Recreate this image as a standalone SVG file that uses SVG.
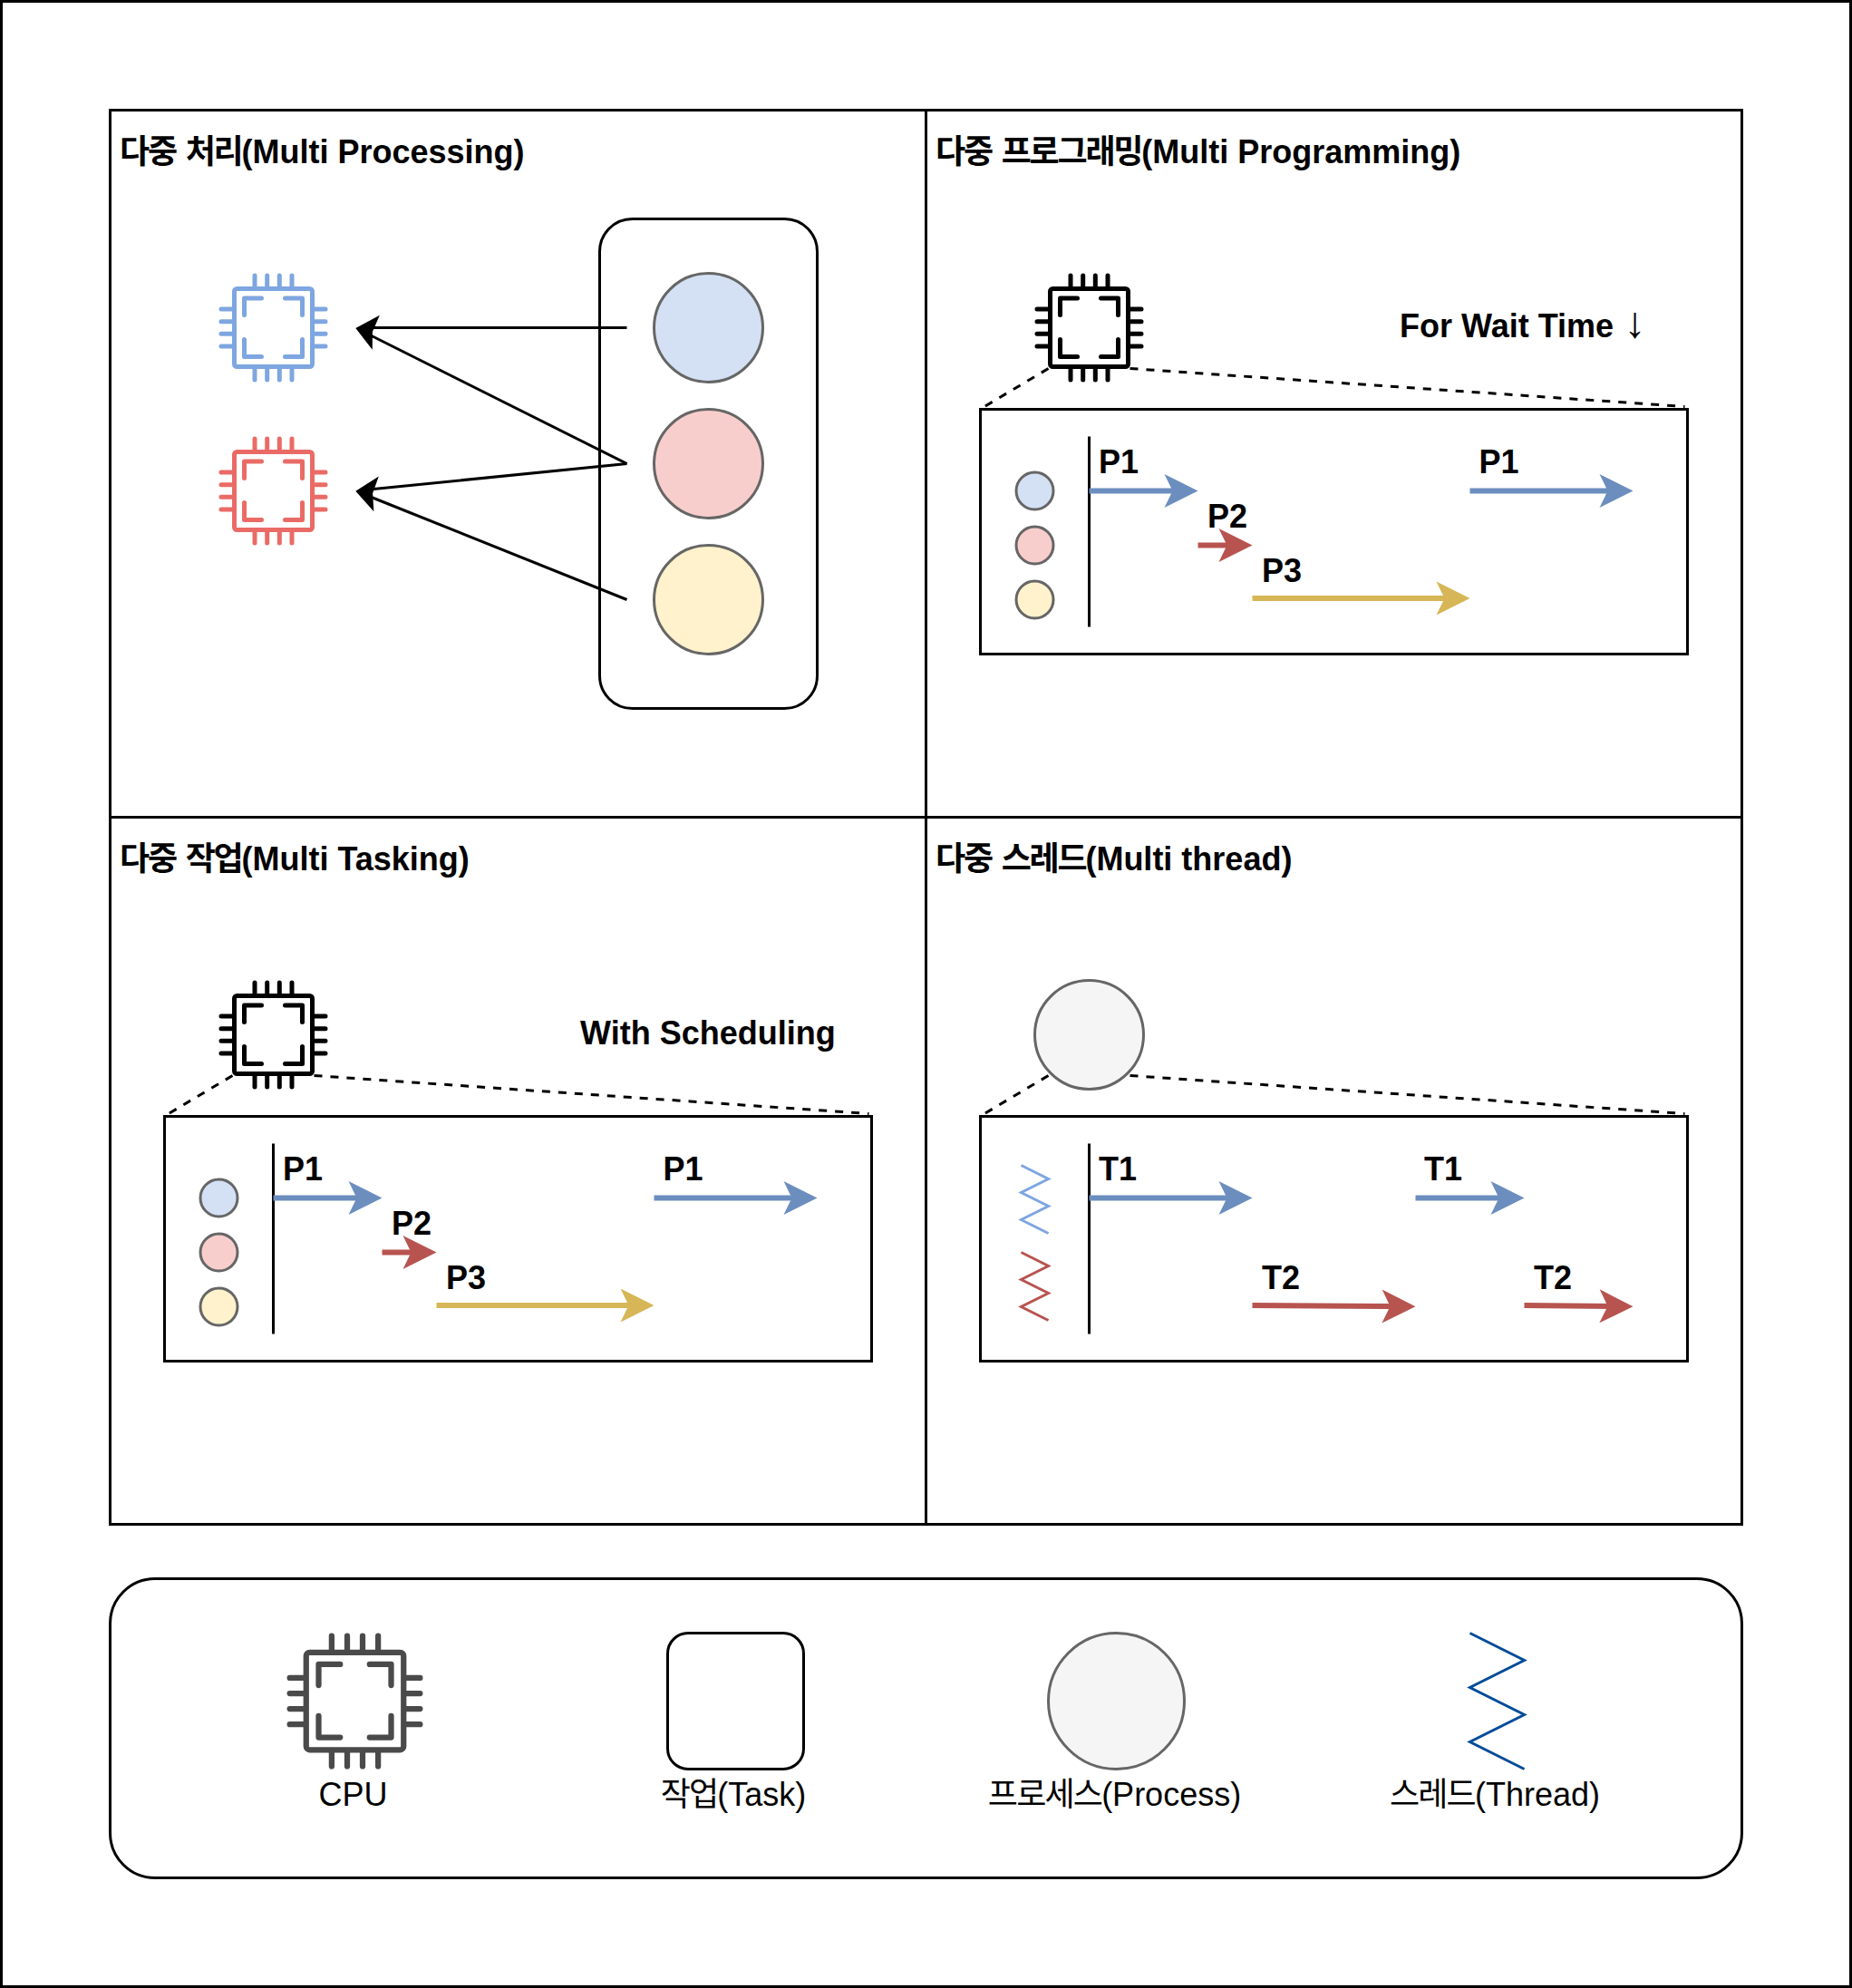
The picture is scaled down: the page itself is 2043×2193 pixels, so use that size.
<svg xmlns="http://www.w3.org/2000/svg" width="2043" height="2193" viewBox="0 0 2043 2193">
<style>
text{font-family:"Liberation Sans","Noto Sans CJK KR",sans-serif;font-size:36px;fill:#000}
.b{font-weight:700}
.k{letter-spacing:-2.2px;word-spacing:3px}
.k2{letter-spacing:-1.8px}
.box{fill:none;stroke:#000;stroke-width:3}
.dash{fill:none;stroke:#000;stroke-width:3;stroke-dasharray:9 9}
.axis{stroke:#000;stroke-width:3;fill:none}
.blk{stroke:#000;stroke-width:3;fill:none}
.c1{fill:#d4e1f5;stroke:#666;stroke-width:3}
.c2{fill:#f8cecc;stroke:#666;stroke-width:3}
.c3{fill:#fff2cc;stroke:#666;stroke-width:3}
.c4{fill:#f5f5f5;stroke:#666;stroke-width:3}
.ab{stroke:#6c8ebf;stroke-width:6;fill:none;marker-end:url(#mb)}
.ar{stroke:#b85450;stroke-width:6;fill:none;marker-end:url(#mr)}
.ay{stroke:#d6b656;stroke-width:6;fill:none;marker-end:url(#my)}
.zb{stroke:#7ea6e0;stroke-width:3;fill:none}
.zr{stroke:#b85450;stroke-width:3;fill:none}
.zd{stroke:#004c99;stroke-width:3;fill:none}
</style>
<defs>
<marker id="mb" markerUnits="userSpaceOnUse" markerWidth="38" markerHeight="38" refX="17" refY="18.5" orient="auto" overflow="visible"><path d="M37,18.5 L0,0 L9,18.5 L0,37Z" fill="#6c8ebf"/></marker>
<marker id="mr" markerUnits="userSpaceOnUse" markerWidth="38" markerHeight="38" refX="17" refY="18.5" orient="auto" overflow="visible"><path d="M37,18.5 L0,0 L9,18.5 L0,37Z" fill="#b85450"/></marker>
<marker id="my" markerUnits="userSpaceOnUse" markerWidth="38" markerHeight="38" refX="17" refY="18.5" orient="auto" overflow="visible"><path d="M37,18.5 L0,0 L9,18.5 L0,37Z" fill="#d6b656"/></marker>
<path id="bhead" d="M0,0 L23,-19.5 L19,0 L23,19.5Z" fill="#000"/>
<g id="chip" fill="none" stroke="currentColor" stroke-width="5" stroke-linecap="round" stroke-linejoin="round">
<rect x="17" y="17" width="86" height="86" rx="3"/>
<path d="M39.5,2.5V15M53.2,2.5V15M66.8,2.5V15M80.5,2.5V15M39.5,105V117.5M53.2,105V117.5M66.8,105V117.5M80.5,105V117.5M2.5,39.5H15M2.5,53.2H15M2.5,66.8H15M2.5,80.5H15M105,39.5H117.5M105,53.2H117.5M105,66.8H117.5M105,80.5H117.5"/>
<path d="M47,27.5H28V46M73,27.5H92V46M28,73V92H47M92,73V92H73"/>
</g>
</defs>
<rect width="2043" height="2193" fill="#fff"/>
<rect id="frame" x="1.5" y="1.5" width="2040" height="2190" class="box"/>

<g id="panel-processing">
<rect x="121.5" y="121.5" width="900" height="780" class="box"/>
<text class="b" x="132" y="180"><tspan class="k">다중 처리</tspan>(Multi Processing)</text>
</g>
<g id="panel-programming">
<rect x="1021.5" y="121.5" width="900" height="780" class="box"/>
<text class="b" x="1032" y="180"><tspan class="k">다중 프로그래밍</tspan>(Multi Programming)</text>
</g>
<g id="panel-tasking">
<rect x="121.5" y="901.5" width="900" height="780" class="box"/>
<text class="b" x="132" y="960"><tspan class="k">다중 작업</tspan>(Multi Tasking)</text>
</g>
<g id="panel-thread">
<rect x="1021.5" y="901.5" width="900" height="780" class="box"/>
<text class="b" x="1032" y="960"><tspan class="k">다중 스레드</tspan>(Multi thread)</text>
</g>

<g id="cpu-blue"><use href="#chip" x="241.5" y="301.5" color="#7ea6e0"/></g>
<g id="cpu-red"><use href="#chip" x="241.5" y="481.5" color="#ea6b66"/></g>
<g id="task-box"><rect x="661.5" y="241.5" width="240" height="540" rx="36" class="box"/></g>
<g id="proc-1"><circle cx="781.5" cy="361.5" r="60" class="c1"/></g>
<g id="proc-2"><circle cx="781.5" cy="511.5" r="60" class="c2"/></g>
<g id="proc-3"><circle cx="781.5" cy="661.5" r="60" class="c3"/></g>

<g id="prog-cpu"><use href="#chip" x="1141.5" y="301.5" color="#000"/></g>
<g id="prog-note"><text class="b" x="1544" y="372">For Wait Time <tspan x="1791.5" style="font-size:48px">↓</tspan></text></g>
<g id="prog-box">
<rect x="1081.5" y="451.5" width="780" height="270" class="box"/>
<circle cx="1141.5" cy="541.5" r="20.5" class="c1"/>
<circle cx="1141.5" cy="601.5" r="20.5" class="c2"/>
<circle cx="1141.5" cy="661.5" r="20.5" class="c3"/>
<text class="b" x="1212" y="522">P1</text>
<text class="b" x="1332" y="582">P2</text>
<text class="b" x="1392" y="642">P3</text>
<text class="b" x="1631.5" y="522">P1</text>
</g>

<g id="task-cpu"><use href="#chip" x="241.5" y="1081.5" color="#000"/></g>
<g id="task-note"><text class="b" x="640" y="1152">With Scheduling</text></g>
<g id="task-timeline">
<rect x="181.5" y="1231.5" width="780" height="270" class="box"/>
<circle cx="241.5" cy="1321.5" r="20.5" class="c1"/>
<circle cx="241.5" cy="1381.5" r="20.5" class="c2"/>
<circle cx="241.5" cy="1441.5" r="20.5" class="c3"/>
<text class="b" x="312" y="1302">P1</text>
<text class="b" x="432" y="1362">P2</text>
<text class="b" x="492" y="1422">P3</text>
<text class="b" x="731.5" y="1302">P1</text>
</g>

<g id="thread-proc"><circle cx="1201.5" cy="1141.5" r="60" class="c4"/></g>
<g id="thread-box">
<rect x="1081.5" y="1231.5" width="780" height="270" class="box"/>
<path d="M1126.5,1285.5L1156.5,1300.5L1126.5,1315.5L1156.5,1330.5L1126.5,1345.5L1156.5,1360.5" class="zb"/>
<path d="M1126.5,1381.5L1156.5,1396.5L1126.5,1411.5L1156.5,1426.5L1126.5,1441.5L1156.5,1456.5" class="zr"/>
<text class="b" x="1212" y="1302">T1</text>
<text class="b" x="1392" y="1422">T2</text>
<text class="b" x="1571" y="1302">T1</text>
<text class="b" x="1692" y="1422">T2</text>
</g>

<g id="legend">
<rect x="121.5" y="1741.5" width="1800" height="330" rx="49.5" class="box"/>
</g>
<g id="legend-cpu"><use href="#chip" transform="translate(316.5,1801.5) scale(1.25)" color="#4a4a4a"/><text x="389.5" y="1992" text-anchor="middle">CPU</text></g>
<g id="legend-task"><rect x="736.5" y="1801.5" width="150" height="150" rx="22.5" class="box"/><text x="809" y="1992" text-anchor="middle"><tspan class="k2">작업</tspan>(Task)</text></g>
<g id="legend-process"><circle cx="1231.5" cy="1876.5" r="75" class="c4"/><text x="1229.5" y="1992" text-anchor="middle"><tspan class="k2">프로세스</tspan>(Process)</text></g>
<g id="legend-thread"><path d="M1621.5,1801.5L1681.5,1831.5L1621.5,1861.5L1681.5,1891.5L1621.5,1921.5L1681.5,1951.5" class="zd"/><text x="1649" y="1992" text-anchor="middle"><tspan class="k2">스레드</tspan>(Thread)</text></g>

<g id="connectors">
<line x1="691.5" y1="361.5" x2="402" y2="361.5" class="blk"/>
<line x1="691.5" y1="511.5" x2="401" y2="366" class="blk"/>
<line x1="691.5" y1="511.5" x2="402" y2="540.5" class="blk"/>
<line x1="691.5" y1="661.5" x2="401" y2="545" class="blk"/>
<use href="#bhead" transform="translate(392.3,362) rotate(12)"/>
<use href="#bhead" transform="translate(392.3,541.7) rotate(8)"/>

<line x1="1156.5" y1="406.5" x2="1086" y2="448.5" class="dash"/>
<line x1="1246.5" y1="406.5" x2="1858.5" y2="448.5" class="dash"/>
<line x1="1201.5" y1="481.5" x2="1201.5" y2="691.5" class="axis"/>
<line x1="1201.5" y1="541.5" x2="1301.5" y2="541.5" class="ab"/>
<line x1="1321.5" y1="601.5" x2="1361.5" y2="601.5" class="ar"/>
<line x1="1381.5" y1="660" x2="1601.5" y2="660" class="ay"/>
<line x1="1621.5" y1="541.5" x2="1781.5" y2="541.5" class="ab"/>

<line x1="256.5" y1="1186.5" x2="186" y2="1228.5" class="dash"/>
<line x1="346.5" y1="1186.5" x2="958.5" y2="1228.5" class="dash"/>
<line x1="301.5" y1="1261.5" x2="301.5" y2="1471.5" class="axis"/>
<line x1="301.5" y1="1321.5" x2="401.5" y2="1321.5" class="ab"/>
<line x1="421.5" y1="1381.5" x2="461.5" y2="1381.5" class="ar"/>
<line x1="481.5" y1="1440" x2="701.5" y2="1440" class="ay"/>
<line x1="721.5" y1="1321.5" x2="881.5" y2="1321.5" class="ab"/>

<line x1="1156.5" y1="1186.5" x2="1086" y2="1228.5" class="dash"/>
<line x1="1246.5" y1="1186.5" x2="1858.5" y2="1228.5" class="dash"/>
<line x1="1201.5" y1="1261.5" x2="1201.5" y2="1471.5" class="axis"/>
<line x1="1201.5" y1="1321.5" x2="1361.5" y2="1321.5" class="ab"/>
<line x1="1381.5" y1="1440" x2="1541.5" y2="1441" class="ar"/>
<line x1="1561.5" y1="1321.5" x2="1661.5" y2="1321.5" class="ab"/>
<line x1="1681.5" y1="1440" x2="1781.5" y2="1441" class="ar"/>
</g>
</svg>
